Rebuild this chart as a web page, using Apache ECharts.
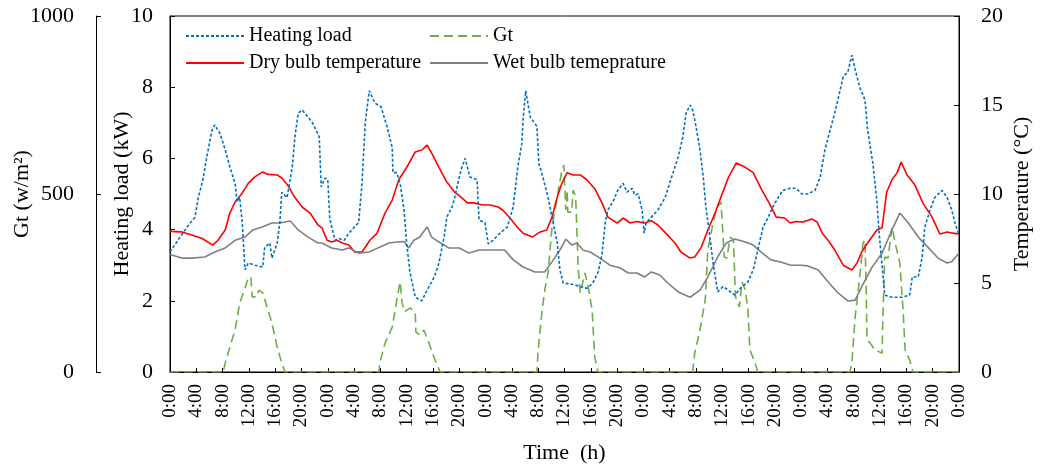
<!DOCTYPE html>
<html>
<head>
<meta charset="utf-8">
<script src="https://cdn.jsdelivr.net/npm/echarts@6/dist/echarts.min.js"></script>
<style>
html,body{margin:0;padding:0;background:#fff;}
#chart{width:1041px;height:470px;}
</style>
</head>
<body>
<div id="chart"></div>
<script>
// ---- Data (time in hours from start) ----
const xTickLabels = ['0:00','4:00','8:00','12:00','16:00','20:00'];

const heatT = [0,1.2,2.6,3.8,4.3,5.0,5.6,6.4,6.8,7.6,8.4,9.1,9.9,10.2,10.6,11.0,11.4,11.9,12.9,14.1,14.4,15.2,15.5,16.3,16.7,17.0,17.8,18.6,19.0,19.5,20.1,21.0,21.7,22.7,23.0,23.6,24.0,24.3,25.1,25.7,26.5,27.2,28.7,29.2,29.7,30.3,31.2,32.1,33.0,33.8,33.9,34.5,35.0,35.6,36.0,36.5,37.3,38.3,39.1,40.2,40.9,41.7,42.1,42.9,43.3,43.9,44.4,44.9,45.6,46.7,47.0,47.9,48.4,49.1,50.2,51.3,52.2,52.9,53.5,53.7,54.1,54.8,55.8,56.1,56.7,57.5,58.1,58.9,59.3,59.8,61.3,62.4,63.4,64.3,65.1,65.7,66.2,66.6,67.4,68.1,68.9,69.5,70.3,70.7,71.2,71.8,72.1,72.4,73.2,74.2,75.3,76.3,77.3,78.0,78.5,79.1,79.5,80.0,80.6,81.1,81.5,82.1,82.6,83.3,84.1,84.9,85.9,86.8,87.9,88.7,89.4,90.2,91.0,91.7,92.5,93.2,94.3,95.2,96.1,97.0,98.1,98.9,99.6,100.4,101.1,101.9,102.4,103.1,103.7,104.2,104.9,105.7,106.1,106.9,107.5,107.9,108.4,108.7,109.8,111.3,112.5,112.9,113.8,114.4,114.8,115.6,116.3,117.4,118.2,118.9,119.4,120];
const heatV = [3.37,3.7,4.07,4.35,4.9,5.4,6.04,6.8,6.94,6.7,6.24,5.76,5.3,4.78,4.9,4.18,2.87,3.06,3.0,2.95,3.5,3.62,3.2,3.62,4.18,5.05,4.9,5.76,6.6,7.27,7.36,7.16,6.99,6.6,5.2,5.45,5.4,4.3,3.7,3.75,3.7,3.9,4.2,5.3,7.0,7.9,7.55,7.45,6.9,6.3,5.6,5.6,5.3,4.55,3.6,2.8,2.1,2.0,2.3,2.67,3.06,3.8,4.35,4.64,4.9,5.4,5.76,6.0,5.48,5.4,4.27,4.2,3.6,3.7,3.9,4.07,4.64,5.76,6.4,7.08,7.9,7.16,6.9,5.86,5.48,4.9,4.35,3.62,2.87,2.5,2.46,2.4,2.35,2.5,2.8,3.3,4.2,4.55,4.8,5.1,5.3,5.05,5.16,4.97,5.0,4.55,3.9,4.18,4.35,4.55,4.9,5.48,6.04,6.6,7.27,7.5,7.36,6.9,6.24,5.48,4.64,3.8,3.06,2.25,2.4,2.3,2.16,2.36,2.53,2.87,3.43,4.07,4.35,4.64,4.9,5.1,5.16,5.16,5.0,5.0,5.1,5.48,6.24,6.8,7.27,7.9,8.3,8.43,8.9,8.5,8.0,7.64,6.8,5.86,4.83,3.8,2.78,2.16,2.1,2.1,2.16,2.67,2.67,3.23,4.07,4.55,4.9,5.1,4.9,4.55,4.18,3.85];

const gtT = [0,8.1,8.4,9.1,9.9,10.6,11.3,11.9,12.3,12.5,13.2,13.5,14.1,14.9,15.5,16.3,17.0,17.5,
  31.8,31.9,32.7,33.8,34.5,35.0,35.3,35.7,36.5,37.3,37.4,38.0,38.6,39.4,40.3,41.1,
  55.8,56.0,56.6,57.0,57.5,58.1,58.9,59.6,59.9,60.2,60.4,60.5,61.1,61.3,61.7,62.1,62.4,63.1,63.6,64.2,64.6,65.1,
  79.5,79.8,80.6,81.4,81.8,82.6,83.2,83.8,84.3,84.7,85.2,85.7,86.0,86.6,87.0,87.5,87.9,88.2,89.0,89.4,
  103.4,103.7,104.2,104.9,105.4,105.7,105.9,106.0,106.5,107.2,108.3,108.4,108.7,109.2,109.8,110.3,111.0,111.5,111.8,112.5,113.0,120];
const gtV = [0,0,25,70,118,194,230,264,267,211,211,230,222,174,138,70,25,0,
  0,25,81,126,202,253,194,169,180,166,112,104,118,81,34,0,
  0,62,174,230,278,407,492,567,581,455,511,449,449,511,492,287,222,278,239,174,42,0,
  0,53,118,202,343,419,461,478,323,320,379,371,211,183,253,230,174,62,25,0,
  0,25,154,267,362,371,222,90,81,62,53,138,323,320,407,362,306,174,62,34,0,0];

const dryT = [0,1.8,3.3,4.9,6.5,7.3,8.4,9.1,9.9,11.0,11.9,12.9,14.1,14.9,16.3,17.0,17.9,19.0,20.1,21.3,22.5,23.1,23.9,24.6,25.4,26.2,27.2,28.1,29.2,30.4,31.5,32.7,33.8,34.8,36.0,37.3,38.3,39.1,39.8,40.9,42.1,43.3,44.4,45.2,46.2,47.5,48.7,49.9,50.6,51.7,52.8,53.7,55.1,56.3,57.3,58.1,58.9,59.6,60.4,61.3,62.4,63.4,64.6,65.7,66.6,68.0,68.9,70.0,71.0,72.2,73.2,74.2,75.4,76.8,77.7,79.1,79.8,80.8,81.8,82.9,83.8,84.9,86.1,87.5,88.7,89.9,91.3,92.2,93.5,94.3,95.2,96.3,97.6,98.4,99.2,100.1,101.1,102.4,103.7,104.5,105.2,106.1,107.5,108.3,109.0,109.8,110.6,111.2,112.1,113.3,114.5,115.9,117.1,118.2,119.1,120];
const dryV = [7.9,7.87,7.7,7.5,7.13,7.4,7.98,8.93,9.55,10.06,10.6,10.96,11.24,11.1,11.07,10.9,10.5,9.8,9.27,8.93,8.26,8.1,7.4,7.3,7.4,7.25,7.13,6.74,6.74,7.4,7.8,8.93,9.66,10.8,11.5,12.36,12.47,12.75,12.3,11.5,10.67,10.1,9.78,9.5,9.5,9.38,9.38,9.27,9.1,8.65,8.15,7.8,7.58,7.87,7.98,8.7,9.83,10.6,11.2,11.07,11.07,10.8,10.3,9.5,8.7,8.37,8.65,8.37,8.45,8.37,8.5,8.26,7.8,7.25,6.74,6.4,6.46,7.0,7.98,8.93,9.83,10.9,11.74,11.5,11.2,10.3,9.38,8.7,8.65,8.37,8.45,8.43,8.6,8.43,7.8,7.4,6.85,6.0,5.73,6.12,6.74,7.25,7.98,8.1,10.1,10.8,11.2,11.8,11.07,10.5,9.5,8.7,7.75,7.87,7.8,7.75];

const wetT = [0,1.8,3.3,5.3,6.8,8.4,9.9,11.4,12.6,14.0,15.5,16.7,18.3,19.5,21.0,22.5,23.1,24.6,26.2,27.2,28.7,30.3,31.8,33.3,34.5,35.6,36.3,37.1,38.0,39.1,39.8,40.9,42.4,44.0,45.5,47.0,49.1,50.9,52.2,53.7,55.5,57.0,58.3,59.3,60.2,61.1,61.9,62.8,63.9,65.4,66.9,68.5,69.7,71.0,72.2,73.2,74.5,75.7,77.3,79.1,80.6,81.8,83.3,84.6,85.9,87.5,88.7,89.9,91.4,92.9,94.4,96.0,97.0,98.6,100.1,101.6,103.1,104.2,105.2,106.8,108.3,109.8,111.0,112.3,113.8,115.3,116.8,118.2,118.9,120];
const wetV = [6.6,6.4,6.4,6.46,6.74,6.97,7.4,7.58,7.98,8.15,8.37,8.37,8.48,7.98,7.58,7.25,7.25,6.97,6.85,6.97,6.68,6.74,7.0,7.25,7.3,7.33,6.97,7.4,7.58,8.15,7.58,7.3,6.97,6.97,6.68,6.85,6.85,6.85,6.3,5.9,5.62,5.62,6.3,6.85,7.47,7.13,7.25,6.85,6.74,6.4,6.0,5.84,5.56,5.56,5.34,5.62,5.45,5.0,4.5,4.2,4.6,5.34,6.46,7.25,7.47,7.3,7.13,6.74,6.3,6.18,6.0,6.0,5.96,5.73,5.06,4.44,3.99,4.04,4.78,5.9,6.68,7.98,8.93,8.37,7.58,7.0,6.4,6.12,6.2,6.68];

const pairs = (t, v) => t.map((x, i) => [x, v[i]]);

const FONT = 'Liberation Serif';
const chart = echarts.init(document.getElementById('chart'), null, {renderer: 'canvas'});

const baseY = {
  type: 'value',
  nameMoveOverlap: false,
  axisLine: {show: true, lineStyle: {color: '#000', width: 1}},
  axisTick: {show: true, inside: true, length: 5, lineStyle: {color: '#000'}},
  splitLine: {show: false},
  axisLabel: {color: '#000', fontFamily: FONT, fontSize: 22, formatter: v => String(v)},
  nameLocation: 'middle',
  nameRotate: 90,
  nameTextStyle: {color: '#000', fontFamily: FONT, fontSize: 22}
};

const legendBase = {
  orient: 'vertical', top: 26, padding: 0, itemWidth: 58, itemHeight: 12, itemGap: 7,
  textStyle: {color: '#000', fontFamily: FONT, fontSize: 20},
  itemStyle: {opacity: 0, borderWidth: 0}
};

chart.setOption({
  animation: false,
  backgroundColor: '#fff',
  grid: {left: 170, right: 82, top: 16, bottom: 98, show: true, borderColor: '#000', borderWidth: 1,
         containLabel: false, outerBoundsMode: 'none'},
  legend: [
    Object.assign({}, legendBase, {left: 185, data: ['Heating load', 'Dry bulb temperature']}),
    Object.assign({}, legendBase, {left: 429, data: ['Gt', 'Wet bulb temeprature']})
  ],
  xAxis: {
    type: 'value', min: 0, max: 120, interval: 4,
    nameMoveOverlap: false,
    name: 'Time  (h)', nameLocation: 'middle', nameGap: 70,
    nameTextStyle: {color: '#000', fontFamily: FONT, fontSize: 22},
    axisLine: {show: true, lineStyle: {color: '#000'}},
    axisTick: {show: true, inside: true, length: 4, lineStyle: {color: '#000'}},
    splitLine: {show: false},
    axisLabel: {
      rotate: 90, margin: 12, color: '#000', fontFamily: FONT, fontSize: 19,
      showMinLabel: true, showMaxLabel: true,
      formatter: v => xTickLabels[(Math.round(v) % 24) / 4]
    }
  },
  yAxis: [
    Object.assign({}, baseY, {
      position: 'left', min: 0, max: 10, interval: 2,
      name: 'Heating load (kW)', nameGap: 37,
      axisLabel: Object.assign({}, baseY.axisLabel, {margin: 17})
    }),
    Object.assign({}, baseY, {
      position: 'left', offset: 74, min: 0, max: 1000, interval: 500,
      name: 'Gt (w/m²)', nameGap: 63,
      axisLabel: Object.assign({}, baseY.axisLabel, {margin: 22})
    }),
    Object.assign({}, baseY, {
      position: 'right', min: 0, max: 20, interval: 5,
      name: 'Temperature (°C)', nameGap: 52,
      axisLabel: Object.assign({}, baseY.axisLabel, {margin: 22})
    })
  ],
  series: [
    {
      name: 'Heating load', type: 'line', yAxisIndex: 0, symbol: 'none', z: 4,
      lineStyle: {color: '#0070C0', width: 1.6, type: [3, 2]},
      itemStyle: {color: '#0070C0'},
      data: pairs(heatT, heatV)
    },
    {
      name: 'Gt', type: 'line', yAxisIndex: 1, symbol: 'none', z: 2,
      lineStyle: {color: '#70AD47', width: 1.6, type: [9, 5]},
      itemStyle: {color: '#70AD47'},
      data: pairs(gtT, gtV)
    },
    {
      name: 'Dry bulb temperature', type: 'line', yAxisIndex: 2, symbol: 'none', z: 3,
      lineStyle: {color: '#FF0000', width: 1.6},
      itemStyle: {color: '#FF0000'},
      data: pairs(dryT, dryV)
    },
    {
      name: 'Wet bulb temeprature', type: 'line', yAxisIndex: 2, symbol: 'none', z: 3,
      lineStyle: {color: '#808080', width: 1.6},
      itemStyle: {color: '#808080'},
      data: pairs(wetT, wetV)
    }
  ]
});
</script>
</body>
</html>
